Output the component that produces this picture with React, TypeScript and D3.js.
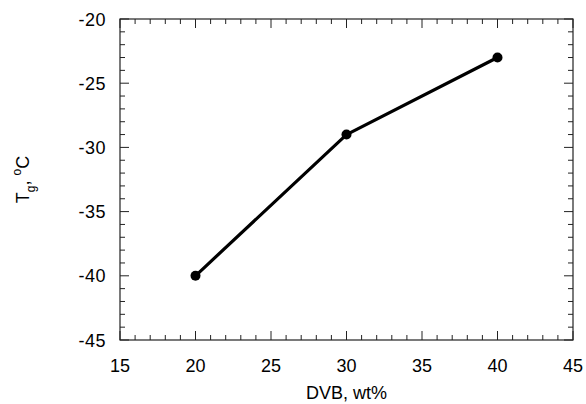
import React from "react";
import * as d3 from "d3";

const dvb = [20, 30, 40];
const tg = [-40, -29, -23];
const xTicks = [15, 20, 25, 30, 35, 40, 45];
const yTicks = [-20, -25, -30, -35, -40, -45];

export default function App() {
  const W = 586, H = 404;
  const L = 120, R = 573, T = 19, B = 340;
  const x = d3.scaleLinear().domain([15, 45]).range([L, R]);
  const y = d3.scaleLinear().domain([-45, -20]).range([B, T]);
  const xMinor = d3.range(15, 46, 1);
  const yMinor = d3.range(-45, -19, 1);
  const line = d3.line<number>().x((d, i) => x(dvb[i])).y((d) => y(d));
  const font = "Liberation Sans, Arial, sans-serif";
  const tc = "#222";
  return (
    <svg width={W} height={H} style={{ position: "absolute", left: 0, top: 0, background: "#fff" }}>
      <rect x={L} y={T} width={R - L} height={B - T} fill="none" stroke={tc} strokeWidth={1.2} />
      {xMinor.map((v) => {
        const major = v % 5 === 0;
        const len = major ? 9 : 5;
        return (
          <g key={"x" + v}>
            <line x1={x(v)} x2={x(v)} y1={B} y2={B - len} stroke={tc} strokeWidth={1} />
            <line x1={x(v)} x2={x(v)} y1={T} y2={T + len} stroke={tc} strokeWidth={1} />
          </g>
        );
      })}
      {yMinor.map((v) => {
        const major = v % 5 === 0;
        const len = major ? 9 : 5;
        return (
          <g key={"y" + v}>
            <line x1={L} x2={L + len} y1={y(v)} y2={y(v)} stroke={tc} strokeWidth={1} />
            <line x1={R} x2={R - len} y1={y(v)} y2={y(v)} stroke={tc} strokeWidth={1} />
          </g>
        );
      })}
      {xTicks.map((v) => (
        <text key={"xl" + v} x={x(v)} y={B + 32} fontSize={18} fontFamily={font} textAnchor="middle" fill="#000">
          {v}
        </text>
      ))}
      {yTicks.map((v) => (
        <text key={"yl" + v} x={L - 14} y={y(v) + 6.5} fontSize={18} fontFamily={font} textAnchor="end" fill="#000" letterSpacing={0.5}>
          {v}
        </text>
      ))}
      <text x={(L + R) / 2} y={399} fontSize={18} fontFamily={font} textAnchor="middle" fill="#000">
        DVB, wt%
      </text>
      <g transform={`translate(29, ${(T + B) / 2}) rotate(-90)`}>
        <text x={0} y={0} fontSize={18} fontFamily={font} textAnchor="middle" fill="#000">
          T<tspan fontSize={12} dy={6}>g</tspan><tspan dy={-6}>, </tspan><tspan fontSize={12} dy={-8}>o</tspan><tspan dy={8}>C</tspan>
        </text>
      </g>
      <path d={line(tg) || ""} fill="none" stroke="#000" strokeWidth={3.2} strokeLinejoin="round" />
      {tg.map((v, i) => (
        <circle key={"p" + i} cx={x(dvb[i])} cy={y(v)} r={5} fill="#000" />
      ))}
    </svg>
  );
}
